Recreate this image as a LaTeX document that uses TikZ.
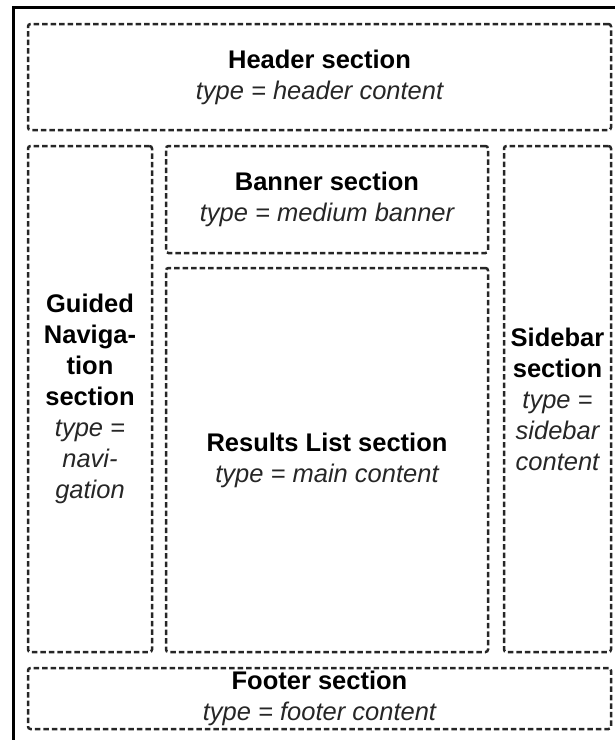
\documentclass[tikz,border=0pt]{standalone}
\usepackage{fontspec}
\setmainfont{Liberation Sans}

\tikzset{
  layoutbox/.style={draw=black!85, line width=2.5pt, dash pattern=on 5.5pt off 3pt,
    rounded corners=2.5pt, align=center, inner sep=0pt,
    font=\fontsize{25.5}{31}\selectfont},
}
\newcommand{\secname}[1]{{\bfseries #1}}
\newcommand{\sectype}[1]{{\color{black!85}\itshape #1}}

\begin{document}
\begin{tikzpicture}[x=1pt, y=-1pt]
  \useasboundingbox (0,0) rectangle (615,740);

  % FRAME (cut off right and bottom)
  \begin{scope}
    \clip (0,0) rectangle (615,740);
    \draw[line width=3pt] (13,760) -- (13,7) -- (640,7);
  \end{scope}

  % SECTIONS
  \node[layoutbox, minimum width=583pt, minimum height=106pt] (header) at (319.5,77)
    {\secname{Header section}\\ \sectype{type = header content}};

  \node[layoutbox, minimum width=124pt, minimum height=506pt] (guidednav) at (90,399)
    {\secname{Guided}\\ \secname{Naviga-}\\ \secname{tion}\\ \secname{section}\\
     \sectype{type =}\\ \sectype{navi-}\\ \sectype{gation}};

  \node[layoutbox, minimum width=322pt, minimum height=107pt] (banner) at (327,199.5)
    {\secname{Banner section}\\ \sectype{type = medium banner}};

  \node[layoutbox, minimum width=322pt, minimum height=384pt] (results) at (327,460)
    {\secname{Results List section}\\ \sectype{type = main content}};

  \node[layoutbox, minimum width=107pt, minimum height=506pt] (sidebar) at (557.5,399)
    {\secname{Sidebar}\\ \secname{section}\\ \sectype{type =}\\ \sectype{sidebar}\\
     \sectype{content}};

  \node[layoutbox, minimum width=583pt, minimum height=61pt] (footer) at (319.5,698.5)
    {\secname{Footer section}\\ \sectype{type = footer content}};

\end{tikzpicture}
\end{document}
